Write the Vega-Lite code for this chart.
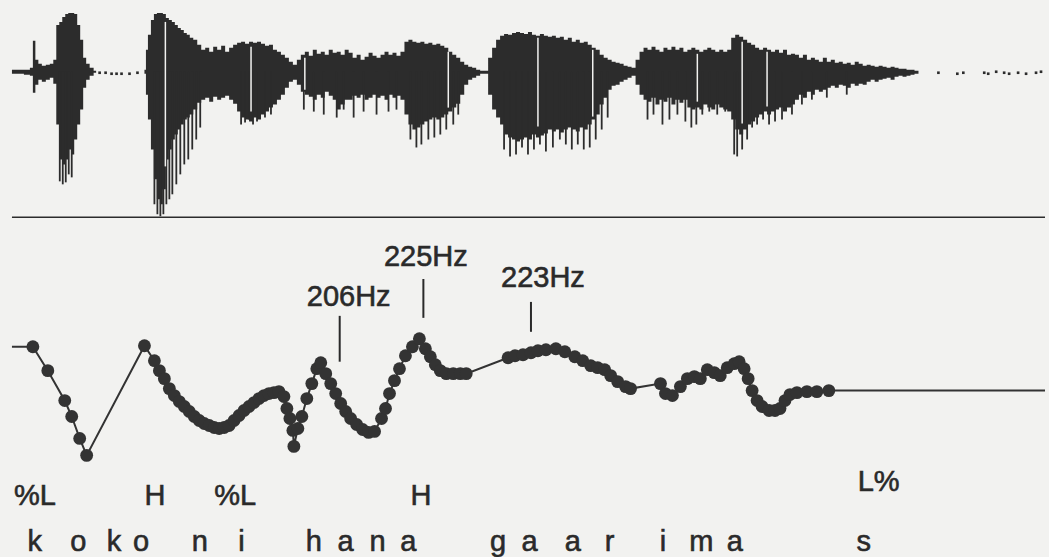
{
  "$schema": "https://vega.github.io/schema/vega-lite/v6.json",
  "width": 1049,
  "height": 557,
  "autosize": {"type": "fit", "contains": "padding"},
  "padding": 0,
  "background": "#f2f2f0",
  "config": {"view": {"stroke": null}},
  "datasets": {
    "wave": [
      {"t":12,"hi":2,"lo":-2},{"t":20,"hi":2,"lo":-2},{"t":28,"hi":2,"lo":-3},{"t":32,"hi":4,"lo":-4},{"t":34,"hi":31,"lo":-21},{"t":37,"hi":12,"lo":-13},{"t":40,"hi":8,"lo":-8},{"t":44,"hi":6,"lo":-10},{"t":48,"hi":7,"lo":-8},{"t":52,"hi":8,"lo":-6},{"t":55,"hi":12,"lo":-12},{"t":58,"hi":47,"lo":-53},{"t":61,"hi":50,"lo":-88},{"t":64,"hi":55,"lo":-93},{"t":67,"hi":58,"lo":-88},{"t":70,"hi":59,"lo":-78},{"t":73,"hi":59,"lo":-83},{"t":76,"hi":58,"lo":-68},{"t":79,"hi":47,"lo":-53},{"t":82,"hi":32,"lo":-38},{"t":85,"hi":14,"lo":-16},{"t":88,"hi":8,"lo":-8},{"t":92,"hi":4,"lo":-4},{"t":96,"hi":1,"lo":-1},{"t":97,"hi":0,"lo":0},{"t":144,"hi":0,"lo":0},
      {"t":146,"hi":2,"lo":-2},{"t":147,"hi":22,"lo":-23},{"t":150,"hi":37,"lo":-48},{"t":153,"hi":52,"lo":-78},{"t":156,"hi":58,"lo":-108},{"t":159,"hi":59,"lo":-128},{"t":162,"hi":59,"lo":-133},{"t":165,"hi":58,"lo":-118},{"t":168,"hi":54,"lo":-88},{"t":171,"hi":52,"lo":-78},{"t":174,"hi":50,"lo":-68},{"t":177,"hi":47,"lo":-63},{"t":180,"hi":44,"lo":-58},{"t":183,"hi":42,"lo":-53},{"t":186,"hi":39,"lo":-48},{"t":189,"hi":37,"lo":-46},{"t":192,"hi":34,"lo":-43},{"t":196,"hi":32,"lo":-38},{"t":200,"hi":27,"lo":-31},{"t":204,"hi":22,"lo":-28},{"t":208,"hi":24,"lo":-26},{"t":212,"hi":20,"lo":-30},{"t":216,"hi":25,"lo":-25},{"t":220,"hi":22,"lo":-28},{"t":224,"hi":26,"lo":-26},{"t":228,"hi":20,"lo":-24},{"t":232,"hi":24,"lo":-28},{"t":236,"hi":27,"lo":-32},{"t":240,"hi":29,"lo":-40},{"t":244,"hi":30,"lo":-46},{"t":248,"hi":28,"lo":-48},{"t":252,"hi":30,"lo":-50},{"t":256,"hi":29,"lo":-46},{"t":260,"hi":30,"lo":-48},{"t":264,"hi":28,"lo":-43},{"t":268,"hi":26,"lo":-40},{"t":272,"hi":27,"lo":-36},{"t":276,"hi":22,"lo":-33},{"t":280,"hi":20,"lo":-28},{"t":284,"hi":17,"lo":-23},{"t":288,"hi":14,"lo":-16},{"t":292,"hi":10,"lo":-10},{"t":296,"hi":7,"lo":-8},{"t":300,"hi":12,"lo":-13},{"t":304,"hi":17,"lo":-20},{"t":308,"hi":20,"lo":-23},{"t":312,"hi":16,"lo":-25},{"t":316,"hi":22,"lo":-28},{"t":320,"hi":18,"lo":-23},{"t":324,"hi":20,"lo":-26},{"t":328,"hi":17,"lo":-20},{"t":332,"hi":22,"lo":-24},{"t":336,"hi":19,"lo":-28},{"t":340,"hi":20,"lo":-38},{"t":344,"hi":17,"lo":-33},{"t":348,"hi":22,"lo":-28},
      {"t":352,"hi":19,"lo":-28},{"t":356,"hi":14,"lo":-24},{"t":360,"hi":17,"lo":-26},{"t":364,"hi":12,"lo":-23},{"t":368,"hi":15,"lo":-28},{"t":372,"hi":19,"lo":-26},{"t":376,"hi":16,"lo":-23},{"t":380,"hi":14,"lo":-26},{"t":384,"hi":17,"lo":-24},{"t":388,"hi":20,"lo":-28},{"t":392,"hi":17,"lo":-23},{"t":396,"hi":19,"lo":-26},{"t":400,"hi":16,"lo":-24},{"t":404,"hi":20,"lo":-28},{"t":408,"hi":30,"lo":-43},{"t":412,"hi":32,"lo":-53},{"t":416,"hi":30,"lo":-58},{"t":420,"hi":29,"lo":-56},{"t":424,"hi":30,"lo":-53},{"t":428,"hi":28,"lo":-50},{"t":432,"hi":29,"lo":-48},{"t":436,"hi":27,"lo":-46},{"t":440,"hi":28,"lo":-48},{"t":444,"hi":26,"lo":-46},{"t":448,"hi":24,"lo":-43},{"t":452,"hi":20,"lo":-40},{"t":456,"hi":17,"lo":-36},{"t":460,"hi":14,"lo":-32},{"t":464,"hi":10,"lo":-23},{"t":468,"hi":7,"lo":-13},{"t":472,"hi":5,"lo":-8},{"t":476,"hi":4,"lo":-6},{"t":480,"hi":2,"lo":-4},{"t":484,"hi":1,"lo":-2},{"t":488,"hi":1,"lo":-2},{"t":492,"hi":14,"lo":-23},{"t":496,"hi":24,"lo":-38},{"t":500,"hi":32,"lo":-46},{"t":504,"hi":36,"lo":-53},{"t":508,"hi":38,"lo":-63},{"t":512,"hi":37,"lo":-66},{"t":516,"hi":39,"lo":-68},{"t":520,"hi":40,"lo":-70},{"t":524,"hi":39,"lo":-68},{"t":528,"hi":38,"lo":-66},{"t":532,"hi":40,"lo":-68},{"t":536,"hi":37,"lo":-63},{"t":540,"hi":36,"lo":-66},{"t":544,"hi":38,"lo":-64},{"t":548,"hi":36,"lo":-62},{"t":552,"hi":35,"lo":-58},{"t":556,"hi":36,"lo":-60},{"t":560,"hi":34,"lo":-58},{"t":564,"hi":35,"lo":-61},{"t":568,"hi":32,"lo":-58},{"t":572,"hi":34,"lo":-56},{"t":576,"hi":30,"lo":-58},{"t":580,"hi":32,"lo":-60},{"t":584,"hi":29,"lo":-56},{"t":588,"hi":30,"lo":-58},{"t":592,"hi":27,"lo":-53},{"t":596,"hi":24,"lo":-48},{"t":600,"hi":22,"lo":-43},{"t":604,"hi":17,"lo":-33},{"t":608,"hi":14,"lo":-26},{"t":612,"hi":12,"lo":-18},{"t":616,"hi":10,"lo":-14},{"t":620,"hi":9,"lo":-13},{"t":624,"hi":8,"lo":-10},{"t":628,"hi":6,"lo":-8},{"t":632,"hi":5,"lo":-6},{"t":636,"hi":4,"lo":-4},{"t":640,"hi":12,"lo":-13},{"t":644,"hi":20,"lo":-23},{"t":648,"hi":24,"lo":-28},{"t":652,"hi":22,"lo":-30},{"t":656,"hi":25,"lo":-26},{"t":660,"hi":22,"lo":-33},{"t":664,"hi":20,"lo":-28},{"t":668,"hi":24,"lo":-30},{"t":672,"hi":22,"lo":-26},{"t":676,"hi":25,"lo":-33},{"t":680,"hi":22,"lo":-28},{"t":684,"hi":24,"lo":-31},{"t":688,"hi":20,"lo":-28},{"t":692,"hi":22,"lo":-36},{"t":696,"hi":24,"lo":-38},
      {"t":700,"hi":22,"lo":-36},{"t":704,"hi":20,"lo":-38},{"t":708,"hi":22,"lo":-33},{"t":712,"hi":24,"lo":-36},{"t":716,"hi":22,"lo":-38},{"t":720,"hi":20,"lo":-33},{"t":724,"hi":22,"lo":-36},{"t":728,"hi":20,"lo":-38},{"t":732,"hi":22,"lo":-40},{"t":736,"hi":34,"lo":-48},{"t":740,"hi":37,"lo":-58},{"t":744,"hi":35,"lo":-63},{"t":748,"hi":32,"lo":-58},{"t":752,"hi":29,"lo":-53},{"t":756,"hi":27,"lo":-50},{"t":760,"hi":24,"lo":-46},{"t":764,"hi":22,"lo":-43},{"t":768,"hi":24,"lo":-40},{"t":772,"hi":22,"lo":-43},{"t":776,"hi":20,"lo":-40},{"t":780,"hi":22,"lo":-38},{"t":784,"hi":19,"lo":-36},{"t":788,"hi":22,"lo":-40},{"t":792,"hi":17,"lo":-36},{"t":796,"hi":18,"lo":-33},{"t":800,"hi":17,"lo":-28},{"t":804,"hi":14,"lo":-23},{"t":808,"hi":17,"lo":-26},{"t":812,"hi":12,"lo":-20},{"t":816,"hi":14,"lo":-23},{"t":820,"hi":12,"lo":-18},{"t":824,"hi":10,"lo":-20},{"t":828,"hi":14,"lo":-18},{"t":832,"hi":10,"lo":-16},{"t":836,"hi":12,"lo":-14},{"t":840,"hi":9,"lo":-16},{"t":844,"hi":10,"lo":-13},{"t":848,"hi":8,"lo":-14},{"t":852,"hi":9,"lo":-16},{"t":856,"hi":7,"lo":-12},{"t":860,"hi":10,"lo":-14},{"t":864,"hi":8,"lo":-12},{"t":868,"hi":6,"lo":-13},{"t":872,"hi":7,"lo":-10},{"t":876,"hi":6,"lo":-8},{"t":880,"hi":5,"lo":-10},{"t":884,"hi":6,"lo":-8},{"t":888,"hi":5,"lo":-7},{"t":892,"hi":4,"lo":-6},{"t":896,"hi":5,"lo":-8},{"t":900,"hi":4,"lo":-5},{"t":904,"hi":3,"lo":-4},{"t":908,"hi":3,"lo":-5},{"t":912,"hi":2,"lo":-4},{"t":916,"hi":2,"lo":-3},{"t":920,"hi":1,"lo":-2},{"t":924,"hi":0,"lo":0}
    ],
    "spikes": [
      {"t":60,"lo":-110},{"t":63,"lo":-113},{"t":66,"lo":-111},{"t":69,"lo":-103},{"t":72,"lo":-106},
      {"t":155,"lo":-133},{"t":158,"lo":-143},{"t":161,"lo":-145},{"t":164,"lo":-143},{"t":167,"lo":-133},{"t":170,"lo":-128},{"t":173,"lo":-123},{"t":177,"lo":-113},{"t":181,"lo":-103},{"t":185,"lo":-93},{"t":189,"lo":-88},{"t":193,"lo":-78},{"t":197,"lo":-68},{"t":201,"lo":-56},
      {"t":242,"lo":-53},{"t":246,"lo":-51},{"t":250,"lo":-48},{"t":254,"lo":-53},{"t":258,"lo":-50},{"t":266,"lo":-46},{"t":272,"lo":-43},
      {"t":305,"lo":-38},{"t":315,"lo":-40},{"t":325,"lo":-43},{"t":338,"lo":-46},{"t":345,"lo":-38},
      {"t":355,"lo":-46},{"t":365,"lo":-40},{"t":378,"lo":-43},{"t":390,"lo":-40},{"t":398,"lo":-38},
      {"t":412,"lo":-68},{"t":418,"lo":-76},{"t":423,"lo":-73},{"t":430,"lo":-68},{"t":436,"lo":-66},{"t":442,"lo":-63},{"t":448,"lo":-58},{"t":455,"lo":-53},{"t":460,"lo":-43},
      {"t":506,"lo":-78},{"t":512,"lo":-85},{"t":518,"lo":-83},{"t":524,"lo":-76},{"t":530,"lo":-83},{"t":536,"lo":-78},{"t":542,"lo":-73},{"t":548,"lo":-80},{"t":555,"lo":-76},{"t":562,"lo":-68},{"t":568,"lo":-73},{"t":574,"lo":-78},{"t":580,"lo":-73},{"t":586,"lo":-78},{"t":592,"lo":-76},{"t":598,"lo":-68},{"t":604,"lo":-58},{"t":610,"lo":-46},
      {"t":650,"lo":-48},{"t":656,"lo":-43},{"t":665,"lo":-53},{"t":672,"lo":-48},{"t":680,"lo":-43},{"t":688,"lo":-50},{"t":694,"lo":-56},{"t":699,"lo":-53},
      {"t":705,"lo":-43},{"t":712,"lo":-40},{"t":720,"lo":-43},{"t":728,"lo":-40},{"t":737,"lo":-83},{"t":740,"lo":-85},{"t":745,"lo":-78},{"t":750,"lo":-68},{"t":755,"lo":-56},{"t":760,"lo":-53},{"t":766,"lo":-48},{"t":772,"lo":-53},{"t":778,"lo":-50},{"t":785,"lo":-48},{"t":795,"lo":-43},{"t":805,"lo":-33},{"t":815,"lo":-28},{"t":830,"lo":-26},{"t":850,"lo":-23}
    ],
    "gaps": [
      {"t":166,"hi":50,"lo":-95},{"t":252,"hi":25,"lo":-40},{"t":306,"hi":14,"lo":-18},{"t":450,"hi":20,"lo":-36},{"t":540,"hi":34,"lo":-55},{"t":595,"hi":22,"lo":-45},{"t":700,"hi":18,"lo":-30},{"t":745,"hi":30,"lo":-52},{"t":770,"hi":20,"lo":-35}
    ],
    "dots": [
      {"t":100,"a":-1},{"t":106,"a":-1},{"t":112,"a":-2},{"t":117,"a":-2},{"t":122,"a":-2},{"t":130,"a":-2},{"t":138,"a":-1},
      {"t":942,"a":-1},{"t":961,"a":-2},{"t":967,"a":-1},{"t":988,"a":-1},{"t":992,"a":-2},{"t":1000,"a":0},{"t":1008,"a":-1},{"t":1013,"a":-2},{"t":1022,"a":-1},{"t":1030,"a":-2},{"t":1040,"a":-1},{"t":1045,"a":0}
    ],
    "separator": [{"t":12,"t2":1049,"a":-146}],
    "f0": [
      {"t":12,"f":218.6,"m":false},{"t":33,"f":218.6,"m":true},{"t":48,"f":199.4,"m":true},{"t":65,"f":175.4,"m":true},{"t":72,"f":162.6,"m":true},{"t":80,"f":145,"m":true},{"t":87,"f":131.4,"m":true},
      {"t":145,"f":219.4,"m":true},{"t":155,"f":207.4,"m":true},{"t":160,"f":199.4,"m":true},{"t":165,"f":193,"m":true},{"t":170,"f":185,"m":true},{"t":175,"f":179.4,"m":true},{"t":180,"f":174.6,"m":true},{"t":185,"f":170.6,"m":true},{"t":190,"f":166.6,"m":true},{"t":195,"f":162.6,"m":true},{"t":200,"f":159.4,"m":true},{"t":205,"f":157,"m":true},{"t":210,"f":155.4,"m":true},{"t":215,"f":153.8,"m":true},{"t":220,"f":153,"m":true},{"t":225,"f":153.8,"m":true},{"t":230,"f":155.4,"m":true},{"t":235,"f":159.4,"m":true},{"t":240,"f":163.4,"m":true},{"t":245,"f":167.4,"m":true},{"t":250,"f":170.6,"m":true},{"t":255,"f":173.8,"m":true},{"t":260,"f":177,"m":true},{"t":265,"f":179.4,"m":true},{"t":270,"f":181,"m":true},{"t":275,"f":181.8,"m":true},{"t":280,"f":182.6,"m":true},{"t":285,"f":178.6,"m":true},{"t":288,"f":169,"m":true},{"t":291,"f":161,"m":true},{"t":294,"f":151.4,"m":true},{"t":295,"f":138.6,"m":true},{"t":299,"f":153,"m":true},{"t":303,"f":162.6,"m":true},{"t":308,"f":177,"m":true},{"t":313,"f":189,"m":true},{"t":318,"f":201,"m":true},{"t":322,"f":205.8,"m":true},{"t":327,"f":197,"m":true},{"t":332,"f":189,"m":true},{"t":337,"f":181,"m":true},{"t":342,"f":173,"m":true},{"t":347,"f":166.6,"m":true},{"t":352,"f":161,"m":true},{"t":358,"f":156.2,"m":true},{"t":364,"f":152.2,"m":true},{"t":370,"f":149.8,"m":true},{"t":376,"f":150.6,"m":true},{"t":383,"f":161,"m":true},{"t":387,"f":169,"m":true},{"t":391,"f":181,"m":true},{"t":396,"f":191.4,"m":true},{"t":401,"f":201,"m":true},{"t":407,"f":211.4,"m":true},{"t":414,"f":218.6,"m":true},{"t":421,"f":225,"m":true},{"t":427,"f":217,"m":true},{"t":432,"f":210.6,"m":true},{"t":437,"f":204.2,"m":true},{"t":442,"f":199.4,"m":true},{"t":448,"f":197,"m":true},{"t":455,"f":197,"m":true},{"t":462,"f":197,"m":true},{"t":468,"f":197,"m":true},
      {"t":510,"f":209.8,"m":true},{"t":517,"f":211.4,"m":true},{"t":525,"f":212.2,"m":true},{"t":533,"f":213.8,"m":true},{"t":540,"f":215.4,"m":true},{"t":548,"f":216.2,"m":true},{"t":558,"f":217,"m":true},{"t":567,"f":214.6,"m":true},{"t":577,"f":210.6,"m":true},{"t":585,"f":207.4,"m":true},{"t":593,"f":203.4,"m":true},{"t":600,"f":201.8,"m":true},{"t":607,"f":200.2,"m":true},{"t":613,"f":195.4,"m":true},{"t":620,"f":190.6,"m":true},{"t":628,"f":186.6,"m":true},{"t":633,"f":185,"m":true},
      {"t":663,"f":189,"m":true},{"t":668,"f":181,"m":true},{"t":675,"f":179.4,"m":true},{"t":683,"f":186.6,"m":true},{"t":690,"f":193,"m":true},{"t":697,"f":194.6,"m":true},{"t":703,"f":193,"m":true},{"t":710,"f":200.2,"m":true},{"t":717,"f":197.8,"m":true},{"t":723,"f":195.4,"m":true},{"t":730,"f":201.8,"m":true},{"t":737,"f":205,"m":true},{"t":742,"f":206.6,"m":true},{"t":747,"f":201,"m":true},{"t":751,"f":193,"m":true},{"t":755,"f":183.4,"m":true},{"t":760,"f":175.4,"m":true},{"t":765,"f":170.6,"m":true},{"t":772,"f":167.4,"m":true},{"t":778,"f":167.4,"m":true},{"t":783,"f":169,"m":true},{"t":788,"f":175.4,"m":true},{"t":793,"f":180.2,"m":true},{"t":800,"f":181.8,"m":true},{"t":810,"f":182.6,"m":true},{"t":820,"f":182.6,"m":true},{"t":832,"f":183.4,"m":true},{"t":1049,"f":183.4,"m":false}
    ],
    "ticks": [
      {"t":341,"f":243.4,"f2":206.6},{"t":425,"f":273,"f2":241.8},{"t":533,"f":254.6,"f2":230.6}
    ],
    "labels": [
      {"t":350,"f":251.4,"label":"206Hz"},{"t":427.5,"f":283.4,"label":"225Hz"},{"t":545,"f":266.6,"label":"223Hz"},
      {"t":35,"f":91.4,"label":"%L"},{"t":155.5,"f":91.4,"label":"H"},{"t":236,"f":91.4,"label":"%L"},{"t":422.5,"f":91.4,"label":"H"},{"t":882,"f":102.6,"label":"L%"},
      {"t":35,"f":54.6,"label":"k"},{"t":78.5,"f":54.6,"label":"o"},{"t":114.5,"f":54.6,"label":"k"},{"t":141.5,"f":54.6,"label":"o"},{"t":200.5,"f":54.6,"label":"n"},{"t":242.5,"f":54.6,"label":"i"},{"t":315,"f":54.6,"label":"h"},{"t":347,"f":54.6,"label":"a"},{"t":379,"f":54.6,"label":"n"},{"t":410,"f":54.6,"label":"a"},{"t":500,"f":54.6,"label":"g"},{"t":531.5,"f":54.6,"label":"a"},{"t":575,"f":54.6,"label":"a"},{"t":612,"f":54.6,"label":"r"},{"t":665.5,"f":54.6,"label":"i"},{"t":704,"f":54.6,"label":"m"},{"t":737.5,"f":54.6,"label":"a"},{"t":867,"f":54.6,"label":"s"}
    ]
  },
  "layer": [
    {
      "layer": [
        {
          "data": {"name": "wave"},
          "mark": {"type": "area", "interpolate": "step", "color": "#2c2c2c"},
          "encoding": {
            "x": {"field": "t", "type": "quantitative", "scale": {"domain": [0, 1049]}, "axis": null},
            "y": {"field": "hi", "type": "quantitative", "scale": {"domain": [-485, 72]}, "axis": null},
            "y2": {"field": "lo"}
          }
        },
        {
          "data": {"name": "spikes"},
          "mark": {"type": "rule", "color": "#2c2c2c", "strokeWidth": 1.8},
          "encoding": {
            "x": {"field": "t", "type": "quantitative", "scale": {"domain": [0, 1049]}, "axis": null},
            "y": {"field": "lo", "type": "quantitative", "scale": {"domain": [-485, 72]}, "axis": null},
            "y2": {"datum": 0}
          }
        },
        {
          "data": {"name": "gaps"},
          "mark": {"type": "rule", "color": "#f2f2f0", "strokeWidth": 1.5},
          "encoding": {
            "x": {"field": "t", "type": "quantitative", "scale": {"domain": [0, 1049]}, "axis": null},
            "y": {"field": "hi", "type": "quantitative", "scale": {"domain": [-485, 72]}, "axis": null},
            "y2": {"field": "lo"}
          }
        },
        {
          "data": {"name": "dots"},
          "mark": {"type": "square", "color": "#2c2c2c", "size": 7, "opacity": 1},
          "encoding": {
            "x": {"field": "t", "type": "quantitative", "scale": {"domain": [0, 1049]}, "axis": null},
            "y": {"field": "a", "type": "quantitative", "scale": {"domain": [-485, 72]}, "axis": null}
          }
        },
        {
          "data": {"name": "separator"},
          "mark": {"type": "rule", "color": "#2c2c2c", "strokeWidth": 1.6},
          "encoding": {
            "x": {"field": "t", "type": "quantitative", "scale": {"domain": [0, 1049]}, "axis": null},
            "x2": {"field": "t2"},
            "y": {"field": "a", "type": "quantitative", "scale": {"domain": [-485, 72]}, "axis": null}
          }
        }
      ]
    },
    {
      "layer": [
        {
          "data": {"name": "f0"},
          "mark": {"type": "line", "color": "#333333", "strokeWidth": 2},
          "encoding": {
            "x": {"field": "t", "type": "quantitative", "scale": {"domain": [0, 1049]}, "axis": null},
            "y": {"field": "f", "type": "quantitative", "scale": {"domain": [51.4, 497]}, "axis": null},
            "order": {"field": "t"}
          }
        },
        {
          "data": {"name": "f0"},
          "transform": [{"filter": "datum.m"}],
          "mark": {"type": "circle", "color": "#333333", "size": 165, "opacity": 1},
          "encoding": {
            "x": {"field": "t", "type": "quantitative", "scale": {"domain": [0, 1049]}, "axis": null},
            "y": {"field": "f", "type": "quantitative", "scale": {"domain": [51.4, 497]}, "axis": null}
          }
        },
        {
          "data": {"name": "ticks"},
          "mark": {"type": "rule", "color": "#2a2a2a", "strokeWidth": 2},
          "encoding": {
            "x": {"field": "t", "type": "quantitative", "scale": {"domain": [0, 1049]}, "axis": null},
            "y": {"field": "f", "type": "quantitative", "scale": {"domain": [51.4, 497]}, "axis": null},
            "y2": {"field": "f2"}
          }
        },
        {
          "data": {"name": "labels"},
          "mark": {"type": "text", "font": "Liberation Sans", "fontSize": 29, "color": "#2a2a2a", "stroke": "#2a2a2a", "strokeWidth": 0.6, "align": "center", "baseline": "alphabetic"},
          "encoding": {
            "x": {"field": "t", "type": "quantitative", "scale": {"domain": [0, 1049]}, "axis": null},
            "y": {"field": "f", "type": "quantitative", "scale": {"domain": [51.4, 497]}, "axis": null},
            "text": {"field": "label"}
          }
        }
      ]
    }
  ],
  "resolve": {"scale": {"y": "independent"}}
}
